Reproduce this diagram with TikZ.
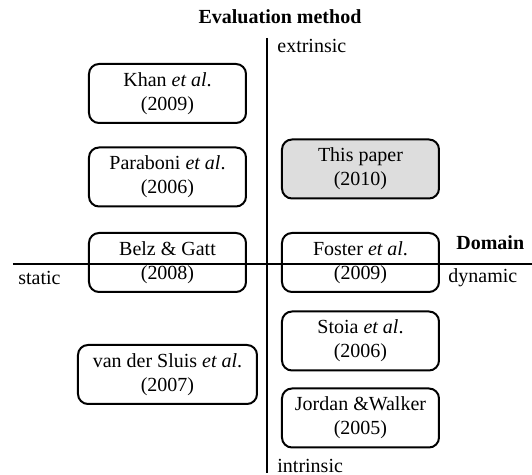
\documentclass[tikz,border=0pt]{standalone}
\usepackage{fontspec}
\setmainfont{Liberation Serif}
\begin{document}
\begin{tikzpicture}[x=0.5pt,y=-0.5pt,
  paper/.style={draw, line width=1pt, rounded corners=5pt, minimum width=78.5pt, minimum height=29.5pt, inner sep=0pt, align=center, font=\fontsize{10}{12}\selectfont},
  widepaper/.style={paper, minimum width=89.5pt},
  axis/.style={line width=1pt},
  lbl/.style={inner sep=0pt, font=\fontsize{10}{12}\selectfont},
  ttl/.style={inner sep=0pt, font=\fontsize{10}{12}\selectfont\bfseries}]
\useasboundingbox (0,0) rectangle (532,475);
% boxes
\node[paper] (khan) at (167.5,93.5) {Khan \textit{et al}.\\(2009)};
\node[paper] (paraboni) at (167.5,177) {Paraboni \textit{et al}.\\(2006)};
\node[paper, fill={rgb,255:red,221;green,221;blue,221}] (this) at (360.5,169) {This paper\\(2010)};
\node[paper] (belz) at (167.5,262.5) {Belz \& Gatt\\(2008)};
\node[paper] (foster) at (360.5,262.5) {Foster \textit{et al}.\\(2009)};
\node[paper] (stoia) at (360.5,341) {Stoia \textit{et al}.\\(2006)};
\node[widepaper] (sluis) at (167.5,374.5) {van der Sluis \textit{et al}.\\(2007)};
\node[paper] (jordan) at (360.5,418) {Jordan \&Walker\\(2005)};
% axes
\coordinate (vtop) at (267,38);
\coordinate (vbot) at (267,473);
\coordinate (hleft) at (13,264.5);
\coordinate (hright) at (532,264.5);
\draw[axis] (vtop) -- (vbot);
\draw[axis] (hleft) -- (hright);
% labels
\node[ttl] (title) at (280,17) {Evaluation method};
\node[lbl, anchor=west] (extr) at (277,46) {extrinsic};
\node[lbl, anchor=west] (intr) at (277,466) {intrinsic};
\node[lbl, anchor=west] (static) at (18,278) {static};
\node[lbl, anchor=west] (dyn) at (448,278) {dynamic};
\node[ttl, anchor=west] (domain) at (456,243) {Domain};
\end{tikzpicture}
\end{document}
